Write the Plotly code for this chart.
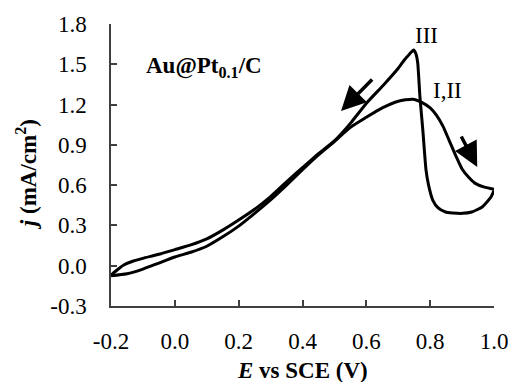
import plotly.graph_objects as go

# Forward scan (I,II)
fwd_E = [-0.2, -0.15, -0.1, -0.05, 0.0, 0.05, 0.1, 0.15, 0.2, 0.25, 0.3, 0.35, 0.4, 0.45, 0.5, 0.55,
         0.6, 0.65, 0.7, 0.745, 0.775, 0.8, 0.82, 0.84, 0.86, 0.88, 0.9, 0.92, 0.94, 0.97, 1.0]
fwd_j = [-0.075, -0.06, -0.025, 0.02, 0.065, 0.1, 0.145, 0.215, 0.295, 0.39, 0.49, 0.6, 0.715, 0.825, 0.925, 1.03,
         1.105, 1.175, 1.225, 1.24, 1.215, 1.175, 1.12, 1.04, 0.93, 0.82, 0.72, 0.66, 0.615, 0.585, 0.57]

# Reverse scan (III)
rev_E = [1.0, 0.99, 0.963, 0.93, 0.901, 0.87, 0.848, 0.825, 0.808, 0.795, 0.787, 0.777, 0.768, 0.761,
         0.755, 0.748, 0.735, 0.719, 0.7, 0.654, 0.601, 0.55, 0.5, 0.45, 0.4, 0.35, 0.3, 0.25, 0.2,
         0.15, 0.1, 0.05, 0.0, -0.05, -0.1, -0.13, -0.16, -0.18, -0.2]
rev_j = [0.56, 0.51, 0.437, 0.40, 0.39, 0.393, 0.40, 0.43, 0.489, 0.6, 0.713, 1.01, 1.256, 1.51,
         1.58, 1.606, 1.575, 1.532, 1.47, 1.346, 1.212, 1.06, 0.93, 0.835, 0.73, 0.625, 0.515, 0.42, 0.34,
         0.265, 0.2, 0.155, 0.12, 0.085, 0.055, 0.035, 0.005, -0.03, -0.07]

x_ticks = [-0.2, 0.0, 0.2, 0.4, 0.6, 0.8, 1.0]
x_labels = ["-0.2", "0.0", "0.2", "0.4", "0.6", "0.8", "1.0"]
y_ticks = [-0.3, 0.0, 0.3, 0.6, 0.9, 1.2, 1.5, 1.8]
y_labels = ["-0.3", "0.0", "0.3", "0.6", "0.9", "1.2", "1.5", "1.8"]

FONT = "Liberation Serif, Times New Roman, serif"

fig = go.Figure()
fig.add_trace(go.Scatter(x=fwd_E, y=fwd_j, mode="lines",
                         line=dict(color="black", width=3, shape="spline", smoothing=0.6),
                         showlegend=False))
fig.add_trace(go.Scatter(x=rev_E, y=rev_j, mode="lines",
                         line=dict(color="black", width=3, shape="spline", smoothing=0.5),
                         showlegend=False))

fig.update_xaxes(range=[-0.2, 1.0], tickvals=x_ticks, ticktext=x_labels,
                 showline=True, linecolor="#404040", linewidth=1.5, mirror=False,
                 ticks="inside", ticklen=6, tickcolor="#404040", tickwidth=1.5,
                 showgrid=False, zeroline=False, ticklabelstandoff=14,
                 tickfont=dict(family=FONT, size=23, color="black"))
fig.update_yaxes(range=[-0.3, 1.8], tickvals=y_ticks, ticktext=y_labels,
                 showline=True, linecolor="#404040", linewidth=1.5, mirror=False,
                 ticks="inside", ticklen=6, tickcolor="#404040", tickwidth=1.5,
                 showgrid=False, zeroline=False, ticklabelstandoff=18,
                 tickfont=dict(family=FONT, size=23, color="black"))

anns = [
    dict(x=0.5, y=-0.227, xref="paper", yref="paper", text="<b><i>E</i> vs SCE (V)</b>",
         showarrow=False, font=dict(family=FONT, size=23, color="black"), xanchor="center", yanchor="middle"),
    dict(x=-0.2216, y=0.4645, xref="paper", yref="paper", text="<b><i>j</i> (mA/cm<sup>2</sup>)</b>",
         showarrow=False, textangle=-90, font=dict(family=FONT, size=23, color="black"),
         xanchor="center", yanchor="middle"),
    dict(x=-0.098, y=1.48, xref="x", yref="y", text="<b>Au@Pt<sub>0.1</sub>/C</b>",
         showarrow=False, font=dict(family=FONT, size=23, color="black"), xanchor="left", yanchor="middle"),
    dict(x=0.787, y=1.718, xref="x", yref="y", text="III", showarrow=False,
         font=dict(family=FONT, size=23, color="black")),
    dict(x=0.855, y=1.308, xref="x", yref="y", text="I,II", showarrow=False,
         font=dict(family=FONT, size=23, color="black")),
    dict(x=0.5207, y=1.152, ax=0.6228, ay=1.398, xref="x", yref="y", axref="x", ayref="y",
         text="", showarrow=True, arrowhead=2, arrowsize=1.4, arrowwidth=3.5, arrowcolor="black"),
    dict(x=0.9475, y=0.735, ax=0.895, ay=0.973, xref="x", yref="y", axref="x", ayref="y",
         text="", showarrow=True, arrowhead=2, arrowsize=1.4, arrowwidth=3.5, arrowcolor="black"),
]
fig.update_layout(width=520, height=382, margin=dict(l=111, r=21, t=24, b=76),
                  plot_bgcolor="white", paper_bgcolor="white", annotations=anns,
                  font=dict(family=FONT))

fig.write_html("out.html")
